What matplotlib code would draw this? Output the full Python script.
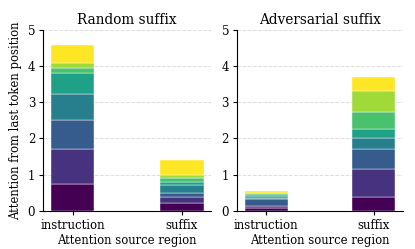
import matplotlib.pyplot as plt
import numpy as np

regions = ["instruction", "suffix"]

# per-layer attention contributions (bottom to top), shape [layer][region]
random_layers = [
    [0.73, 0.22],
    [0.99, 0.16],
    [0.80, 0.12],
    [0.71, 0.22],
    [0.59, 0.09],
    [0.13, 0.09],
    [0.13, 0.09],
    [0.51, 0.42],
]
adv_layers = [
    [0.08, 0.39],
    [0.055, 0.78],
    [0.18, 0.55],
    [0.055, 0.29],
    [0.055, 0.26],
    [0.037, 0.47],
    [0.037, 0.58],
    [0.04, 0.39],
]

plt.rcParams['font.family'] = 'DejaVu Serif'
fig = plt.figure(figsize=(4.15, 2.49), dpi=100)
ax1 = fig.add_axes([0.104, 0.153, 0.405, 0.727])
ax2 = fig.add_axes([0.571, 0.153, 0.400, 0.727])

colors = plt.cm.viridis(np.linspace(0, 1, len(random_layers)))

def draw(ax, layers, title):
    x = np.arange(len(regions))
    bottom = np.zeros(len(regions))
    for i, vals in enumerate(layers):
        vals = np.array(vals)
        ax.bar(x, vals, 0.4, bottom=bottom, color=colors[i],
               edgecolor='white', linewidth=0.3, zorder=3)
        bottom += vals
    ax.set_xticks(x)
    ax.set_xticklabels(regions, fontsize=8.5)
    ax.set_ylim(0, 5)
    ax.set_yticks(range(6))
    ax.tick_params(axis='both', labelsize=8.5, length=3.2, pad=2.5)
    ax.set_title(title, fontsize=9.8, pad=4)
    ax.set_xlabel("Attention source region", fontsize=8.4, labelpad=1.5)
    ax.grid(axis='y', linestyle='--', color='#dddddd', linewidth=0.7, zorder=0)
    ax.spines['top'].set_visible(False)
    ax.spines['right'].set_visible(False)

draw(ax1, random_layers, "Random suffix")
draw(ax2, adv_layers, "Adversarial suffix")
ax1.set_ylabel("Attention from last token position", fontsize=8.4, labelpad=4)

fig.savefig("out.png", dpi=100)
